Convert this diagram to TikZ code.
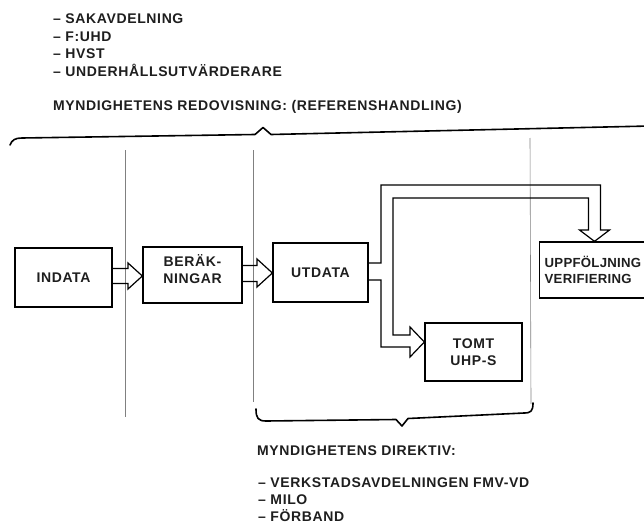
\documentclass[tikz,border=0pt]{standalone}
\usepackage{fontspec}
\newfontfamily\lbl[LetterSpace=4.5]{Liberation Sans}
\newfontfamily\lblnarrow[LetterSpace=2]{Liberation Sans}
\definecolor{ink}{HTML}{1E1E1E}
\definecolor{rule}{HTML}{808080}
\begin{document}
\begin{tikzpicture}[x=1pt,y=-1pt,
  txt/.style={font=\lbl\bfseries\fontsize{14}{17.5}\selectfont, text=ink, inner sep=0pt},
  box/.style={draw=black, line width=1.3pt, align=center, inner sep=0pt,
              font=\lbl\bfseries\fontsize{14}{17.5}\selectfont, text=ink},
  divider/.style={draw=rule, line width=0.6pt},
  bracket/.style={draw=black, line width=1.6pt, line join=round, line cap=round},
  harrow/.style={draw=black, line width=1.2pt, line join=miter}]
\useasboundingbox (0,0) rectangle (644,524);
\clip (0,0) rectangle (644,524);

% dividers
\draw[divider] (125,150) -- (125,417);
\draw[divider] (253,150) -- (253,402);
\draw[divider] (530,138) -- (531,404);

% top text
\node[txt, anchor=base west] (l1) at (53,24) {– SAKAVDELNING};
\node[txt, anchor=base west] (l2) at (53,42) {– F:UHD};
\node[txt, anchor=base west] (l3) at (53,59) {– HVST};
\node[txt, anchor=base west] (l4) at (53,77) {– UNDERHÅLLSUTVÄRDERARE};
\node[txt, anchor=base west] (redov) at (53,110.5) {MYNDIGHETENS REDOVISNING: (REFERENSHANDLING)};

% top brace
\draw[bracket] (10,145) .. controls (12,140) and (15,138) .. (22,138) -- (255,134.5) -- (263,127.5) -- (271,134.5) -- (650,126);

% boxes
\node[box, minimum width=97pt, minimum height=59pt] (indata) at (63.5,277.5) {INDATA};
\node[box, minimum width=99pt, minimum height=56pt] (berak) at (192.5,275) {};
\node[txt, align=center] (beraktxt) at (192.5,269) {BERÄK-\\NINGAR};
\node[box, minimum width=95pt, minimum height=59pt] (utdata) at (320.5,272.5) {UTDATA};
\node[box, minimum width=97pt, minimum height=58pt] (tomt) at (473.5,352) {TOMT\\UHP-S};
\node[box, minimum height=56pt, minimum width=116pt, anchor=west, inner xsep=5pt, align=left,
      text width=106pt, font=\lblnarrow\bfseries\fontsize{13.2}{16.5}\selectfont] (uppf) at (539,270) {UPPFÖLJNING\\VERIFIERING};

% hollow arrows
\draw[harrow] (indata.east |- 0,268.5) -- (128,268.5) -- (128,263) -- (berak.west |- 0,276)
  -- (128,289) -- (128,283.5) -- (indata.east |- 0,283.5);
\draw[harrow] (berak.east |- 0,265.5) -- (257,265.5) -- (257,259) -- (utdata.west |- 0,273)
  -- (257,287) -- (257,281.5) -- (berak.east |- 0,281.5);
\draw[harrow] (utdata.east |- 0,263) -- (381,263) -- (381,185) -- (600.5,185) -- (600.5,230)
  -- (609.5,230) -- (uppf.north -| 594.5,0) -- (579.5,230) -- (588.5,230) -- (588.5,198)
  -- (393,198) -- (393,335) -- (410,335) -- (410,327) -- (tomt.west |- 0,342)
  -- (410,357) -- (410,347) -- (381,347) -- (381,280) -- (utdata.east |- 0,280);

% bottom brace
\draw[bracket] (256,409) .. controls (256,418) and (258,421) .. (266,421) -- (396,419.5)
  -- (402,426) -- (408,418.5) -- (524,413) .. controls (531,413) and (533,411) .. (533,403);

% bottom text
\node[txt, anchor=base west] (direk) at (257,455) {MYNDIGHETENS DIREKTIV:};
\node[txt, anchor=base west] (b1) at (258,487) {– VERKSTADSAVDELNINGEN FMV-VD};
\node[txt, anchor=base west] (b2) at (258,504.5) {– MILO};
\node[txt, anchor=base west] (b3) at (258,521.5) {– FÖRBAND};
\end{tikzpicture}
\end{document}
